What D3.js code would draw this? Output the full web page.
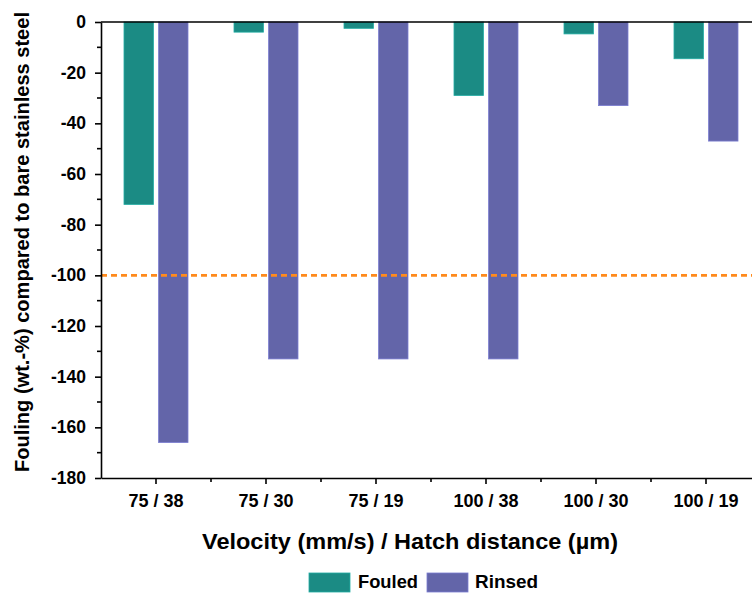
<!DOCTYPE html>
<html><head><meta charset="utf-8">
<script src="https://cdn.jsdelivr.net/npm/d3@7"></script>
<style>
body{margin:0;background:#fff;}
svg{display:block;font-family:"Liberation Sans",Arial,sans-serif;font-weight:bold;}
</style></head>
<body>
<svg id="c" width="752" height="595"></svg>
<script>
const categories = ["75 / 38","75 / 30","75 / 19","100 / 38","100 / 30","100 / 19"];
const seriesNames = ["Fouled","Rinsed"];
const fouled = [-72, -4, -2.5, -29, -4.7, -14.5];
const rinsed = [-166, -133, -133, -133, -33, -47];
const yTicks = [0,-20,-40,-60,-80,-100,-120,-140,-160,-180];
const refLine = -100;
const colors = {Fouled:"#1b8b84", Rinsed:"#6365a9"};

(function(){
const svg = d3.select("#c");
const mLeft = 101, mTop = 22, mBottom = 478, mRight = 761;
const FONT = "Liberation Sans, Arial, sans-serif";

const x = d3.scaleBand().domain(categories).range([mLeft, mRight]);
const xSub = d3.scaleBand().domain(seriesNames).range([-32, 32]).paddingInner(0.15);
const y = d3.scaleLinear().domain([-180, 0]).range([mBottom, mTop]);

const data = categories.map((c,i)=>({cat:c, Fouled:fouled[i], Rinsed:rinsed[i]}));

// bars
const g = svg.append("g");
data.forEach(d=>{
  seriesNames.forEach(s=>{
    g.append("rect")
      .attr("x", x(d.cat) + x.bandwidth()/2 + xSub(s))
      .attr("width", xSub.bandwidth())
      .attr("y", y(0))
      .attr("height", y(d[s]) - y(0))
      .attr("fill", colors[s])
      .attr("stroke", d3.color(colors[s]).brighter(0.6))
      .attr("stroke-width", 0.8);
  });
});

// reference dashed line
svg.append("line")
  .attr("x1", mLeft).attr("x2", 752)
  .attr("y1", y(refLine)).attr("y2", y(refLine))
  .attr("stroke", "#ff8a1c").attr("stroke-width", 2.6)
  .attr("stroke-dasharray", "6,4");

// top line at 0
svg.append("line").attr("x1", mLeft).attr("x2", 752)
  .attr("y1", y(0)).attr("y2", y(0))
  .attr("stroke", "#000").attr("stroke-width", 1.6);

// y axis
const yAxis = svg.append("g").attr("transform", `translate(${mLeft},0)`)
  .call(d3.axisLeft(y).tickValues(yTicks).tickSize(6).tickSizeOuter(0).tickFormat(d => String(d)));
yAxis.select(".domain").attr("stroke-width", 1.6);
yAxis.selectAll(".tick line").attr("stroke-width", 1.6);
yAxis.selectAll(".tick text").attr("font-size", 17.5).attr("font-weight", "bold")
  .attr("font-family", FONT).attr("x", -15).attr("fill", "#000");
const yMinor = yTicks.slice(0, -1).map(v => v - 10);
svg.append("g").selectAll("line").data(yMinor).join("line")
  .attr("x1", mLeft - 4).attr("x2", mLeft)
  .attr("y1", d=>y(d)).attr("y2", d=>y(d))
  .attr("stroke", "#000").attr("stroke-width", 1.6);

// x axis
const xAxis = svg.append("g").attr("transform", `translate(0,${mBottom})`)
  .call(d3.axisBottom(x).tickSize(6).tickSizeOuter(0));
xAxis.select(".domain").attr("stroke-width", 1.6);
xAxis.selectAll(".tick line").attr("stroke-width", 1.6);
xAxis.selectAll(".tick text").attr("font-size", 18).attr("font-weight", "bold")
  .attr("font-family", FONT).attr("y", 16).attr("fill", "#000");
svg.append("g").selectAll("line").data(categories.slice(1)).join("line")
  .attr("x1", d=>x(d)).attr("x2", d=>x(d))
  .attr("y1", mBottom).attr("y2", mBottom + 4)
  .attr("stroke", "#000").attr("stroke-width", 1.6);

// axis titles
svg.append("text")
  .attr("transform", `translate(29,242) rotate(-90)`)
  .attr("text-anchor", "middle").attr("font-size", 19.5)
  .attr("textLength", 460).attr("lengthAdjust", "spacingAndGlyphs")
  .text("Fouling (wt.-%) compared to bare stainless steel");
svg.append("text")
  .attr("x", 410).attr("y", 549)
  .attr("text-anchor", "middle").attr("font-size", 22)
  .attr("textLength", 416).attr("lengthAdjust", "spacingAndGlyphs")
  .text("Velocity (mm/s) / Hatch distance (µm)");

// legend
const legend = [
  {name:"Fouled", x:309, tx:358, w:60},
  {name:"Rinsed", x:427, tx:475, w:63}
];
legend.forEach(l=>{
  svg.append("rect").attr("x", l.x).attr("y", 573).attr("width", 41).attr("height", 19)
    .attr("fill", colors[l.name]).attr("stroke", d3.color(colors[l.name]).brighter(0.6)).attr("stroke-width", 0.8);
  svg.append("text").attr("x", l.tx).attr("y", 588).attr("font-size", 18.5)
    .attr("textLength", l.w).attr("lengthAdjust", "spacingAndGlyphs").text(l.name);
});
})();
</script>
</body></html>
